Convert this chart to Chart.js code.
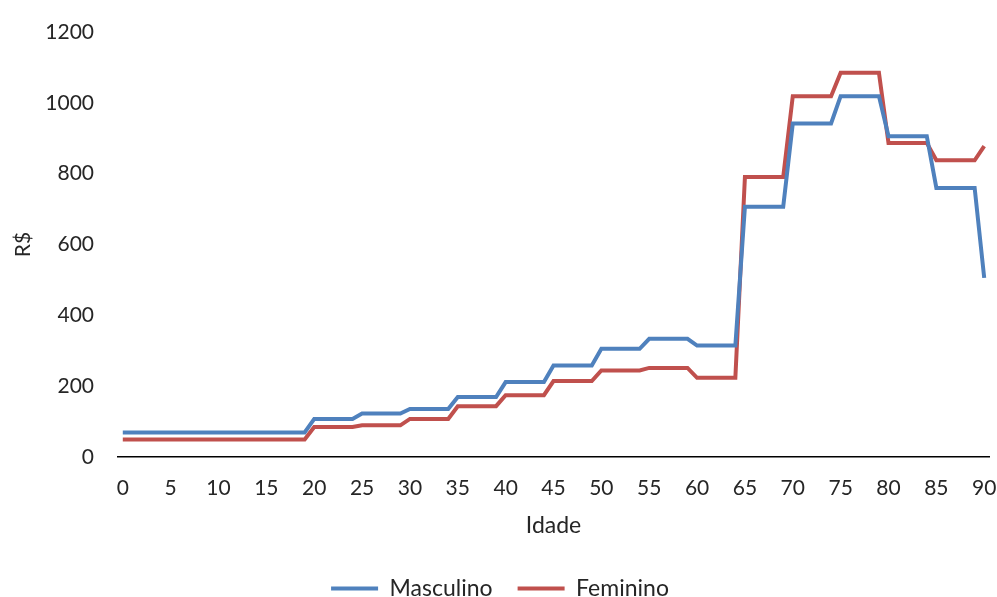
<!DOCTYPE html>
<html>
<head>
<meta charset="utf-8">
<script src="https://cdn.jsdelivr.net/npm/chart.js@4/dist/chart.umd.min.js"></script>
<style>
  html, body { margin: 0; padding: 0; background: #fff; }
  #chart { display: block; }
</style>
</head>
<body>
<canvas id="chart" width="997" height="597"></canvas>
<script>
// ── Data ───────────────────────────────────────────────────
const ages = [
  0, 1, 2, 3, 4, 5, 6, 7, 8, 9, 10, 11, 12, 13, 14, 15, 16, 17, 18, 19,
  20, 21, 22, 23, 24, 25, 26, 27, 28, 29, 30, 31, 32, 33, 34, 35, 36, 37, 38, 39,
  40, 41, 42, 43, 44, 45, 46, 47, 48, 49, 50, 51, 52, 53, 54, 55, 56, 57, 58, 59,
  60, 61, 62, 63, 64, 65, 66, 67, 68, 69, 70, 71, 72, 73, 74, 75, 76, 77, 78, 79,
  80, 81, 82, 83, 84, 85, 86, 87, 88, 89, 90
];

const masculino = [
  70, 70, 70, 70, 70, 70, 70, 70, 70, 70, 70, 70, 70, 70, 70, 70, 70, 70, 70, 70,
  108, 108, 108, 108, 108, 123, 123, 123, 123, 123,
  136, 136, 136, 136, 136, 170, 170, 170, 170, 170,
  212, 212, 212, 212, 212, 259, 259, 259, 259, 259,
  306, 306, 306, 306, 306, 334, 334, 334, 334, 334,
  315, 315, 315, 315, 315, 707, 707, 707, 707, 707,
  942, 942, 942, 942, 942, 1019, 1019, 1019, 1019, 1019,
  906, 906, 906, 906, 906, 760, 760, 760, 760, 760,
  506
];

const feminino = [
  50, 50, 50, 50, 50, 50, 50, 50, 50, 50, 50, 50, 50, 50, 50, 50, 50, 50, 50, 50,
  85, 85, 85, 85, 85, 90, 90, 90, 90, 90,
  108, 108, 108, 108, 108, 144, 144, 144, 144, 144,
  175, 175, 175, 175, 175, 215, 215, 215, 215, 215,
  245, 245, 245, 245, 245, 252, 252, 252, 252, 252,
  224, 224, 224, 224, 224, 791, 791, 791, 791, 791,
  1019, 1019, 1019, 1019, 1019, 1085, 1085, 1085, 1085, 1085,
  887, 887, 887, 887, 887, 838, 838, 838, 838, 838,
  878
];

const yTicks = [0, 200, 400, 600, 800, 1000, 1200];

// ── Chart ──────────────────────────────────────────────────
const FONT = 'Lato, "Open Sans", sans-serif';
const TEXT = '#262626';
const SIZE = 21;
const BIG  = 23;

new Chart(document.getElementById('chart'), {
  type: 'line',
  data: {
    labels: ages,
    datasets: [
      {
        label: 'Masculino',
        data: masculino,
        borderColor: '#4F81BD',
        backgroundColor: '#4F81BD',
        borderWidth: 4,
        pointRadius: 0,
        tension: 0,
      },
      {
        label: 'Feminino',
        data: feminino,
        borderColor: '#C0504D',
        backgroundColor: '#C0504D',
        borderWidth: 4,
        pointRadius: 0,
        tension: 0,
      },
    ],
  },
  options: {
    responsive: false,
    animation: false,
    layout: { padding: { top: 32, right: 8, bottom: -13, left: 11 } },
    font: { family: FONT },
    scales: {
      x: {
        type: 'category',
        offset: true,
        grid: { display: false, drawTicks: false },
        border: { display: true, color: '#000', width: 1.5 },
        afterFit: s => { s.paddingLeft = 0; s.paddingRight = 0; s.height -= 7; },
        ticks: {
          autoSkip: false,
          maxRotation: 0,
          padding: 18,
          color: TEXT,
          font: { family: FONT, size: SIZE },
          callback: (v, i) => (ages[i] % 5 === 0 ? String(ages[i]) : null),
        },
        title: {
          display: true,
          text: 'Idade',
          color: TEXT,
          font: { family: FONT, size: BIG },
          padding: { top: 0, bottom: 13 },
        },
      },
      y: {
        min: 0,
        max: 1200,
        afterBuildTicks: axis => { axis.ticks = yTicks.map(v => ({ value: v })); },
        afterFit: axis => { axis.width = 107; axis.paddingTop = 0; axis.paddingBottom = 0; },
        grid: { display: false, drawTicks: false },
        border: { display: false },
        ticks: {
          padding: 24,
          color: TEXT,
          font: { family: FONT, size: SIZE },
          callback: v => String(v),
        },
        title: {
          display: true,
          text: 'R$',
          color: TEXT,
          font: { family: FONT, size: SIZE },
          padding: { top: 0, bottom: 11 },
        },
      },
    },
    plugins: {
      legend: {
        position: 'bottom',
        labels: {
          usePointStyle: true,
          pointStyle: 'line',
          pointStyleWidth: 47,
          color: TEXT,
          font: { family: FONT, size: BIG },
          padding: 25,
        },
      },
      tooltip: { enabled: false },
    },
  },
});
</script>
</body>
</html>
